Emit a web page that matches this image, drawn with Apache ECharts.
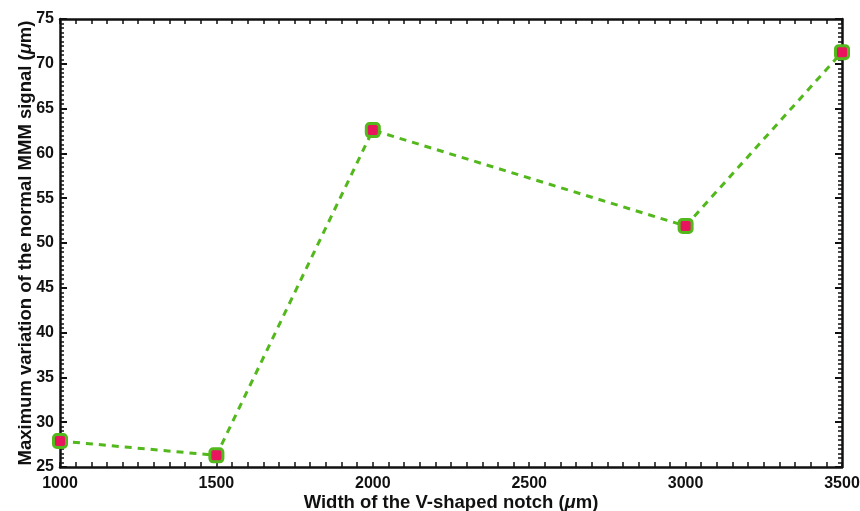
<!DOCTYPE html>
<html>
<head>
<meta charset="utf-8">
<script src="https://cdn.jsdelivr.net/npm/echarts@6/dist/echarts.min.js"></script>
<style>
  html, body { margin: 0; padding: 0; background: #fff; }
  #chart { width: 860px; height: 511px; }
</style>
</head>
<body>
<div id="chart"></div>
<script>
// Notch width (µm) and peak variation of the normal MMM signal (µm)
const notchWidths = [1000, 1500, 2000, 3000, 3500];
const maxVariation = [27.9, 26.3, 62.6, 51.9, 71.3];

const xTicks = { min: 1000, max: 3500, interval: 500 };
const yTicks = { min: 25, max: 75, interval: 5 };

const FONT = 'Liberation Sans, Arial, Helvetica, sans-serif';
const LINE_GREEN = '#52b81c';
const MARK_PINK = '#e8155e';

const chart = echarts.init(document.getElementById('chart'));

const titleStyle = {
  color: '#111', fontFamily: FONT, fontWeight: 'bold', fontSize: 18.5,
  rich: { i: { fontStyle: 'italic', fontWeight: 'bold', fontFamily: FONT, fontSize: 18.5, color: '#111' } }
};

function frameAxis(extra) {
  return Object.assign({
    type: 'value',
    nameMoveOverlap: false,
    axisLine: { show: true, lineStyle: { color: '#111', width: 2.5 } },
    axisTick: { show: true, inside: true, length: 7, lineStyle: { color: '#111', width: 2 } },
    minorTick: { show: true, splitNumber: 10, length: 4, lineStyle: { color: '#111', width: 1.5 } },
    splitLine: { show: false },
    minorSplitLine: { show: false }
  }, extra);
}

const xTickStyle = {
  minorTick: { show: true, splitNumber: 10, length: 5, lineStyle: { color: '#111', width: 1.5 } },
  axisTick: { show: true, inside: true, length: 5, lineStyle: { color: '#111', width: 1.5 } }
};

const points = notchWidths.map((w, i) => [w, maxVariation[i]]);

chart.setOption({
  animation: false,
  backgroundColor: '#fff',
  grid: { left: 60, right: 18, top: 19, bottom: 44, containLabel: false, outerBoundsMode: 'none' },
  xAxis: [
    frameAxis(Object.assign({
      position: 'bottom',
      min: xTicks.min, max: xTicks.max, interval: xTicks.interval,
      axisLabel: {
        color: '#111', fontFamily: FONT, fontWeight: 'bold', fontSize: 16, margin: 9,
        formatter: v => String(v)
      },
      name: 'Width of the V-shaped notch ({i|μ}m)',
      nameLocation: 'middle',
      nameGap: 26,
      nameTextStyle: titleStyle
    }, xTickStyle)),
    frameAxis(Object.assign({
      position: 'top',
      min: xTicks.min, max: xTicks.max, interval: xTicks.interval,
      axisLabel: { show: false }
    }, xTickStyle))
  ],
  yAxis: [
    frameAxis({
      position: 'left',
      min: yTicks.min, max: yTicks.max, interval: yTicks.interval,
      axisLabel: {
        color: '#111', fontFamily: FONT, fontWeight: 'bold', fontSize: 16, margin: 6,
        formatter: v => String(v)
      },
      name: 'Maximum variation of the normal MMM signal ({i|μ}m)',
      nameLocation: 'middle',
      nameGap: 25,
      nameTextStyle: titleStyle
    }),
    frameAxis({
      position: 'right',
      min: yTicks.min, max: yTicks.max, interval: yTicks.interval,
      axisLabel: { show: false }
    })
  ],
  series: [{
    type: 'line',
    data: points,
    xAxisIndex: 0,
    yAxisIndex: 0,
    lineStyle: { color: LINE_GREEN, width: 3, type: [7, 6] },
    symbol: 'roundRect',
    symbolSize: 13,
    itemStyle: { color: MARK_PINK, borderColor: LINE_GREEN, borderWidth: 3 },
    clip: false,
    z: 5
  }]
});
</script>
</body>
</html>
